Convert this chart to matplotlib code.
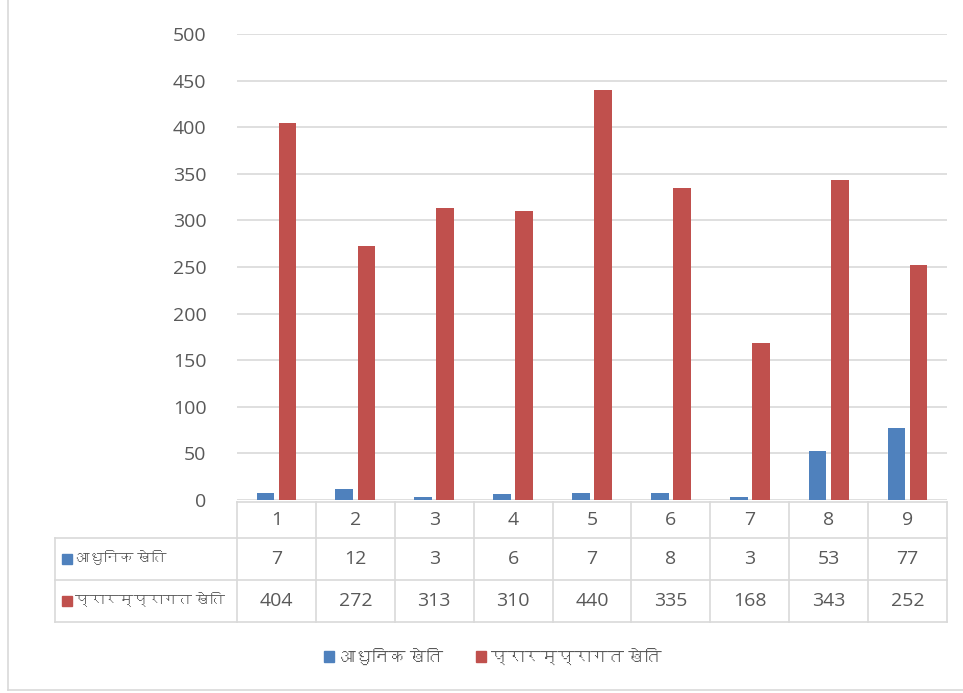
import matplotlib
matplotlib.use("Agg")
import matplotlib.pyplot as plt
from matplotlib import font_manager
from matplotlib.ft2font import FT2Font
from matplotlib.patches import Patch
import numpy as np

# données du graphique
categories = ["1", "2", "3", "4", "5", "6", "7", "8", "9"]
series_names = ["आधुनिक खेति", "प्रारम्प्रागत खेति"]
modern = [7, 12, 3, 6, 7, 8, 3, 53, 77]
traditional = [404, 272, 313, 310, 440, 335, 168, 343, 252]
y_ticks = [0, 50, 100, 150, 200, 250, 300, 350, 400, 450, 500]

BLUE = "#4F81BD"
RED = "#C0504D"
TEXT = "#595959"
GRID = "#D9D9D9"


def find_devanagari_family():
    """Cherche une police installée qui possède les glyphes devanagari."""
    for f in font_manager.fontManager.ttflist:
        try:
            if FT2Font(f.fname).get_char_index(ord("आ")):
                return f.name
        except Exception:
            pass
    return None


dev = find_devanagari_family()
families = ["Open Sans", "DejaVu Sans"]
if dev:
    families = ["Open Sans", dev, "DejaVu Sans"]
plt.rcParams["font.family"] = families

W, H = 963, 693
fig = plt.figure(figsize=(W / 100, H / 100), dpi=100)

# zone du graphique (en pixels)
left, right, top, bottom = 237, 947, 34, 500
ax = fig.add_axes([left / W, 1 - bottom / H, (right - left) / W, (bottom - top) / H])

x = np.arange(1, len(categories) + 1)
width = 0.225
ax.bar(x - 0.14, modern, width, color=BLUE, zorder=3)
ax.bar(x + 0.14, traditional, width, color=RED, zorder=3)

ax.set_xlim(0.5, len(categories) + 0.5)
ax.set_ylim(0, 500)
ax.set_yticks(y_ticks)
ax.set_xticks([])
ax.tick_params(axis="y", length=0, pad=22, labelsize=14, labelcolor=TEXT)
ax.grid(axis="y", color=GRID, linewidth=1.2, zorder=0)
for s in ax.spines.values():
    s.set_visible(False)

# tableau de données sous le graphique
row_top, row_h = 502, [36, 42, 42]
label_left = 55
tab = fig.add_axes([0, 0, 1, 1], facecolor="none")
tab.set_xlim(0, W)
tab.set_ylim(H, 0)
tab.axis("off")

col_w = (right - left) / len(categories)
y_lines = [row_top]
for h in row_h:
    y_lines.append(y_lines[-1] + h)

# lignes horizontales
tab.plot([left, right], [y_lines[0], y_lines[0]], color=GRID, lw=1.2)
for yl in y_lines[1:]:
    tab.plot([label_left, right], [yl, yl], color=GRID, lw=1.2)
# lignes verticales
for i in range(len(categories) + 1):
    xl = left + i * col_w
    tab.plot([xl, xl], [y_lines[0], y_lines[-1]], color=GRID, lw=1.2)
tab.plot([label_left, label_left], [y_lines[1], y_lines[-1]], color=GRID, lw=1.2)

rows = [categories, [str(v) for v in modern], [str(v) for v in traditional]]
for r, row in enumerate(rows):
    yc = (y_lines[r] + y_lines[r + 1]) / 2
    for i, txt in enumerate(row):
        tab.text(left + (i + 0.5) * col_w, yc, txt, ha="center", va="center",
                 fontsize=14, color=TEXT)

for r, (name, col) in enumerate(zip(series_names, [BLUE, RED])):
    yc = (y_lines[r + 1] + y_lines[r + 2]) / 2
    tab.add_patch(plt.Rectangle((label_left + 7, yc - 5), 10, 10, color=col))
    tab.text(label_left + 20, yc, name, ha="left", va="center",
             fontsize=10.5, color=TEXT)

# bordure du graphique
tab.plot([8, 8], [0, 690], color=GRID, lw=1.2)
tab.plot([8, W], [690, 690], color=GRID, lw=1.2)

# légende
handles = [Patch(color=BLUE), Patch(color=RED)]
fig.legend(handles, series_names, loc="center", bbox_to_anchor=(493 / W, 1 - 658 / H),
           ncol=2, frameon=False, fontsize=12, labelcolor=TEXT,
           handlelength=0.6, handleheight=0.6, handletextpad=0.3, columnspacing=2.0)

fig.savefig("out.png", dpi=100)
